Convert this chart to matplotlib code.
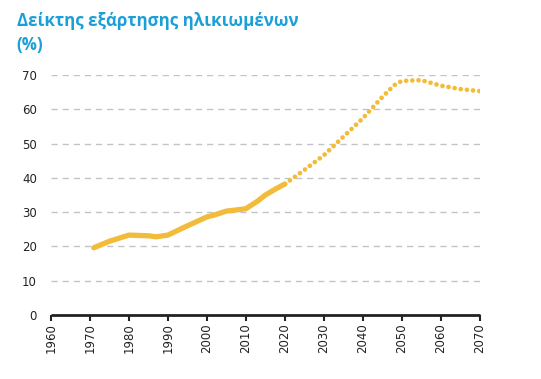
import matplotlib.pyplot as plt

# Old-age dependency ratio (%), observed and projected
years_obs = [1971, 1975, 1980, 1985, 1987, 1990, 1995, 2000, 2002, 2005, 2008, 2010, 2013, 2015, 2018, 2020]
ratio_obs = [19.6, 21.5, 23.3, 23.1, 22.8, 23.3, 26.0, 28.6, 29.2, 30.3, 30.7, 31.0, 33.2, 35.0, 37.0, 38.2]

years_proj = [2020, 2025, 2030, 2035, 2040, 2045, 2048, 2050, 2055, 2060, 2065, 2070]
ratio_proj = [38.2, 42.3, 46.6, 52.0, 57.4, 63.6, 67.0, 68.3, 68.5, 66.9, 65.9, 65.3]

xticks = list(range(1960, 2071, 10))
yticks = list(range(0, 71, 10))

gold = '#F2BC3A'
teal = '#1A9FD6'

fig = plt.figure(figsize=(5.41, 3.79), dpi=100)
ax = fig.add_axes([0.094, 0.169, 0.793, 0.633])

for y in yticks[1:]:
    ax.axhline(y, color='#c2c5c8', lw=1, ls=(0, (4.5, 3.5)), zorder=0)

ax.plot(years_obs, ratio_obs, color=gold, lw=3.8, solid_capstyle='round', solid_joinstyle='round')
ax.plot(years_proj, ratio_proj, color=gold, lw=3.4, ls=(0, (0.01, 1.3)), dash_capstyle='round')

ax.set_xlim(1960, 2070)
ax.set_ylim(0, 70)
ax.set_xticks(xticks)
ax.set_xticklabels([str(x) for x in xticks], rotation=90, fontsize=8.5, color='#222222')
ax.set_yticks(yticks)
ax.set_yticklabels([str(y) for y in yticks], fontsize=8.5, color='#222222')
ax.tick_params(axis='y', length=0, pad=10)
ax.tick_params(axis='x', length=4, width=1.5, color='#222222', pad=2)

for s in ['top', 'right', 'left']:
    ax.spines[s].set_visible(False)
ax.spines['bottom'].set_linewidth(2)
ax.spines['bottom'].set_color('#222222')
ax.spines['bottom'].set_capstyle('butt')

fig.text(0.031, 0.945, 'Δείκτης εξάρτησης ηλικιωμένων', color=teal, fontsize=12.2,
         fontweight='bold', family='Open Sans', va='center')
fig.text(0.031, 0.88, '(%)', color=teal, fontsize=12.2, fontweight='bold',
         family='Open Sans', va='center')

fig.savefig('out.png', dpi=100)
